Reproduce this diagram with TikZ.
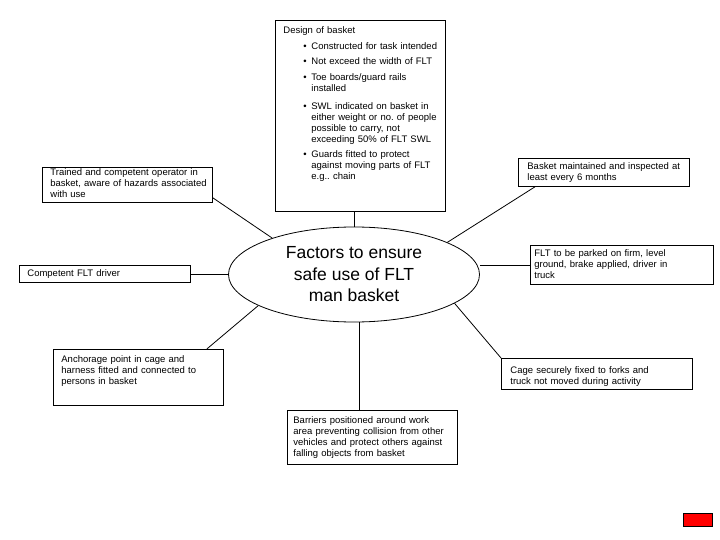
\documentclass[tikz,border=0pt]{standalone}
\usepackage{fontspec}
\setmainfont{Liberation Sans}
\usetikzlibrary{shapes.geometric}
\newcommand{\bul}{\hspace*{20pt}\makebox[8pt][l]{\textbullet}}
\newcommand{\bcont}{\hspace*{28pt}}
\newcommand{\rows}[1]{\begin{tabular}[t]{@{}l@{}}#1\end{tabular}}
\tikzset{
  factor/.style={draw, line width=0.8pt, anchor=north west, align=left,
    inner ysep=0pt, inner xsep=8pt, font=\fontsize{9.5}{11}\selectfont},
  hub/.style={draw, ellipse, line width=0.8pt, minimum width=251pt,
    minimum height=95pt, inner sep=0pt, align=center,
    font=\fontsize{17.5}{21.5}\selectfont},
  link/.style={line width=0.8pt}
}
\begin{document}
\begin{tikzpicture}[x=1pt,y=-1pt]
  \useasboundingbox (0,0) rectangle (720,540);
  % centre
  \node [hub] (factors) at (354,274.5) {Factors to ensure\\safe use of FLT\\man basket};
  % factors round it
  \node [factor, text width=154pt, text height=13pt, text depth=178pt] (design) at (275,20)
    {\rows{Design of basket\\[5pt]
     \bul Constructed for task intended\\[4.5pt]
     \bul Not exceed the width of FLT\\[4.5pt]
     \bul Toe boards/guard rails\\
     \bcont installed\\[7pt]
     \bul SWL indicated on basket in\\
     \bcont either weight or no.\ of people\\
     \bcont possible to carry, not\\
     \bcont exceeding 50\% of FLT SWL\\[4.5pt]
     \bul Guards fitted to protect\\
     \bcont against moving parts of FLT\\
     \bcont e.g..\ chain}};
  \node [factor, text width=154pt, text height=8pt, text depth=27pt] (trained) at (42,167)
    {\rows{Trained and competent operator in\\basket, aware of hazards associated\\with use}};
  \node [factor, text width=155pt, text height=11.5pt, text depth=5.5pt] (competent) at (19,265)
    {\rows{Competent FLT driver}};
  \node [factor, text width=154pt, text height=13pt, text depth=43pt] (anchorage) at (53,349)
    {\rows{Anchorage point in cage and\\harness fitted and connected to\\persons in basket}};
  \node [factor, inner xsep=9pt, text width=153pt, text height=10.7pt, text depth=17.3pt] (maint) at (518,158)
    {\rows{Basket maintained and inspected at\\least every 6 months}};
  \node [factor, inner xsep=4pt, text width=175pt, text height=11pt, text depth=28pt] (parked) at (530,245)
    {\rows{FLT to be parked on firm, level\\ground, brake applied, driver in\\truck}};
  \node [factor, inner xsep=9pt, text width=173pt, text height=15pt, text depth=16pt] (cage) at (501,358)
    {\rows{Cage securely fixed to forks and\\truck not moved during activity}};
  \node [factor, inner xsep=6pt, text width=158pt, text height=13pt, text depth=41pt] (barriers) at (287,410)
    {\rows{Barriers positioned around work\\area preventing collision from other\\vehicles and protect others against\\falling objects from basket}};
  % connectors
  \draw [link] (design.south -| factors.north) -- (factors.north);
  \draw [link] ([yshift=5pt]trained.south east) -- (factors.156);
  \draw [link] (competent.east) -- (competent.east -| factors.west);
  \draw [link] ([xshift=-17pt]anchorage.north east) -- (factors.198);
  \draw [link] ([xshift=17pt]maint.south west) -- (factors.19);
  \draw [link] (parked.west) -- (parked.west -| factors.east);
  \draw [link] (cage.north west) -- (factors.344);
  \draw [link] (factors.277) -- (factors.277 |- barriers.north);
  % slide marker
  \draw [link, fill=red] (683,513) rectangle (712,526);
\end{tikzpicture}
\end{document}
